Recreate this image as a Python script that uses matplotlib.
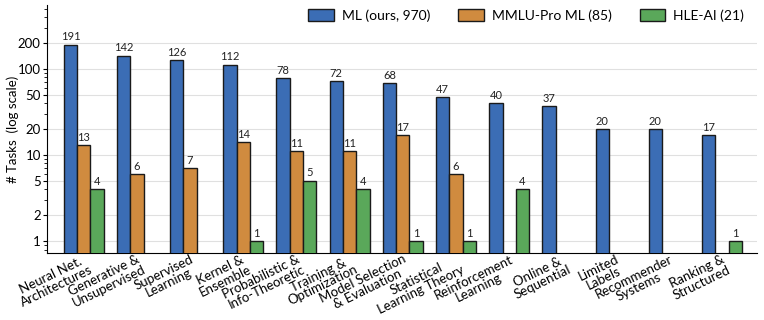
import numpy as np
import matplotlib.pyplot as plt
from matplotlib.ticker import FixedLocator, LogLocator, NullFormatter

plt.rcParams['font.family'] = ['Lato', 'DejaVu Sans']

categories = ["Neural Net.\nArchitectures", "Generative &\nUnsupervised", "Supervised\nLearning",
              "Kernel &\nEnsemble", "Probabilistic &\nInfo-Theoretic", "Training &\nOptimization",
              "Model Selection\n& Evaluation", "Statistical\nLearning Theory", "Reinforcement\nLearning",
              "Online &\nSequential", "Limited\nLabels", "Recommender\nSystems", "Ranking &\nStructured"]
ml = [191, 142, 126, 112, 78, 72, 68, 47, 40, 37, 20, 20, 17]
mmlu = [13, 6, 7, 14, 11, 11, 17, 6, 0, 0, 0, 0, 0]
hle = [4, 0, 0, 1, 5, 4, 1, 1, 4, 0, 0, 0, 1]
series_names = ["ML (ours, 970)", "MMLU-Pro ML (85)", "HLE-AI (21)"]
colors = ["#3b6db5", "#d08b3f", "#5aa85a"]
yticks = [1, 2, 5, 10, 20, 50, 100, 200]

fig = plt.figure(figsize=(7.64, 3.2), dpi=100)
ax = fig.add_axes([47/764, 1 - 253/320, 710/764, 248/320])

x = np.arange(len(categories))
w = 0.25
for i, (vals, name, c) in enumerate(zip([ml, mmlu, hle], series_names, colors)):
    vals = np.array(vals)
    keep = vals > 0
    bars = ax.bar(x[keep] + (i - 1) * w, vals[keep], w, color=c, edgecolor='#1a1a1a',
                  linewidth=1.0, label=name, zorder=3)
    for b, v in zip(bars, vals[keep]):
        ax.text(b.get_x() + b.get_width() / 2, v * 1.07, str(v), ha='center', va='bottom',
                fontsize=8, color='#222222')

ax.set_yscale('log')
ax.set_ylim(0.73, 550)
ax.set_xlim(-0.69, 12.66)
ax.yaxis.set_major_locator(FixedLocator(yticks))
ax.set_yticklabels([str(t) for t in yticks], fontsize=9.5)
ax.yaxis.set_minor_locator(LogLocator(base=10, subs=np.arange(2, 10)))
ax.yaxis.set_minor_formatter(NullFormatter())
ax.tick_params(axis='y', which='major', length=3, pad=1.5)
ax.tick_params(axis='y', which='minor', length=2)
ax.grid(axis='y', which='major', color='#e0e0e0', linewidth=0.8, zorder=0)
ax.set_ylabel("# Tasks  (log scale)", fontsize=9.5)
ax.yaxis.set_label_coords(-0.039, 0.5)

ax.set_xticks(x)
ax.set_xticklabels(categories, rotation=26, ha='right', va='top', rotation_mode='anchor',
                   multialignment='center', linespacing=0.95, fontsize=9.5)
ax.tick_params(axis='x', length=0, pad=0)
ax.spines['top'].set_visible(False)
ax.spines['right'].set_visible(False)

ax.legend(loc='upper right', ncol=3, frameon=False, fontsize=10, handlelength=1.87,
          handleheight=1.0, handletextpad=0.55, columnspacing=2.0, borderpad=0,
          borderaxespad=0, bbox_to_anchor=(744/764, 1 - 9/320), bbox_transform=fig.transFigure)

fig.savefig("out.png", dpi=100)
